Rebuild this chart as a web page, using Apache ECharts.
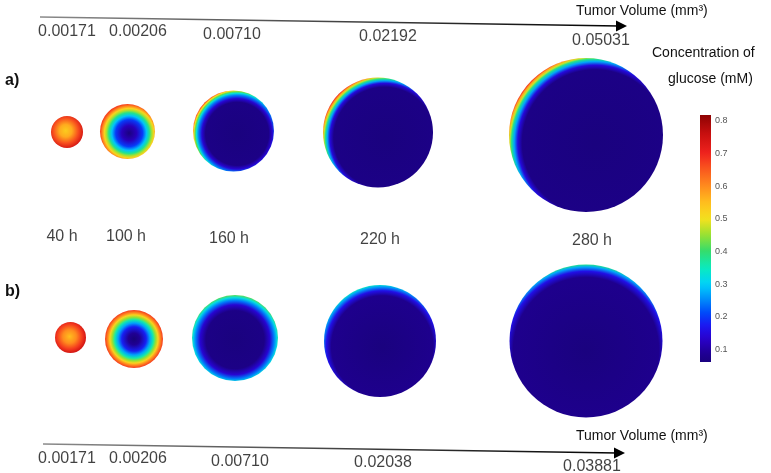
<!DOCTYPE html>
<html><head><meta charset="utf-8">
<script src="https://cdn.jsdelivr.net/npm/echarts@6/dist/echarts.min.js"></script>
<style>html,body{margin:0;padding:0;background:#fff}#c{width:771px;height:473px}</style>
</head><body><div id="c"></div>
<script>
// ---------------- data ----------------
const times = ['40 h', '100 h', '160 h', '220 h', '280 h'];
const volumeA = ['0.00171', '0.00206', '0.00710', '0.02192', '0.05031'];
const volumeB = ['0.00171', '0.00206', '0.00710', '0.02038', '0.03881'];
// glucose concentration (mM) along the radius of each tumour: [relative radius, value]
const glucoseA = [
  [[0, 0.53], [0.35, 0.57], [0.7, 0.66], [1, 0.74]],
  [[0, 0.06], [0.25, 0.12], [0.45, 0.2], [0.58, 0.29], [0.68, 0.38], [0.76, 0.46], [0.83, 0.52], [0.9, 0.6], [0.96, 0.66], [1, 0.68]],
  [[0, 0.06], [0.7, 0.07], [0.78, 0.14], [0.85, 0.24], [0.9, 0.33], [0.93, 0.42], [0.96, 0.5], [0.98, 0.6], [1, 0.68]],
  [[0, 0.06], [0.8, 0.07], [0.86, 0.15], [0.9, 0.27], [0.93, 0.38], [0.955, 0.48], [0.975, 0.58], [1, 0.7]],
  [[0, 0.06], [0.82, 0.07], [0.87, 0.15], [0.91, 0.27], [0.94, 0.38], [0.96, 0.48], [0.98, 0.58], [1, 0.7]]
];
const glucoseB = [
  [[0, 0.55], [0.4, 0.6], [0.75, 0.68], [1, 0.75]],
  [[0, 0.05], [0.2, 0.09], [0.42, 0.18], [0.55, 0.27], [0.66, 0.36], [0.75, 0.45], [0.83, 0.52], [0.9, 0.6], [1, 0.68]],
  [[0, 0.06], [0.65, 0.07], [0.78, 0.14], [0.87, 0.24], [0.94, 0.32], [1, 0.42]],
  [[0, 0.06], [0.82, 0.08], [0.9, 0.16], [0.96, 0.26], [1, 0.34]],
  [[0, 0.06], [0.85, 0.08], [0.92, 0.16], [0.97, 0.27], [1, 0.38]]
];
const colorbarTicks = [0.1, 0.2, 0.3, 0.4, 0.5, 0.6, 0.7, 0.8];
const colorbarRange = [0.062, 0.818];

// ---------------- layout / style ----------------
const layout = {
  aX: [67, 127.5, 233.5, 378, 586], aY: [132, 131.5, 131, 132.5, 135], aD: [32, 55, 81, 110, 154],
  bX: [70.5, 134, 235, 380, 586], bY: [337.5, 339, 338, 341, 341], bD: [31, 58, 86, 112, 153],
  aOff: [[0.46, 0.46], [0.53, 0.53], [0.545, 0.535], [0.56, 0.55], [0.56, 0.55]],
  bOff: [[0.47, 0.47], [0.5, 0.5], [0.5, 0.52], [0.52, 0.55], [0.5, 0.56]],
  topLab: [[67, 32], [138, 32], [232, 35], [388, 37], [601, 41]],
  timeLab: [[62, 237], [126, 237], [229, 239], [380, 240], [592, 241]],
  botLab: [[67, 459], [138, 459], [240, 462], [383, 463], [592, 467]]
};
const jetStops = [
  [0.05, [24, 2, 120]], [0.09, [32, 0, 148]], [0.13, [42, 0, 200]], [0.17, [30, 20, 240]],
  [0.21, [0, 70, 250]], [0.26, [0, 150, 250]], [0.30, [0, 210, 250]], [0.35, [10, 235, 190]],
  [0.40, [50, 220, 110]], [0.45, [150, 225, 50]], [0.50, [245, 225, 30]], [0.55, [255, 190, 30]],
  [0.60, [255, 140, 30]], [0.65, [250, 90, 30]], [0.70, [240, 35, 30]], [0.76, [200, 15, 15]],
  [0.83, [130, 0, 0]]
];
function jet(v) {
  if (v <= jetStops[0][0]) return 'rgb(' + jetStops[0][1].join(',') + ')';
  for (let i = 1; i < jetStops.length; i++) {
    if (v <= jetStops[i][0]) {
      const [v0, c0] = jetStops[i - 1], [v1, c1] = jetStops[i];
      const f = (v - v0) / (v1 - v0);
      return 'rgb(' + c0.map((c, k) => Math.round(c + (c1[k] - c) * f)).join(',') + ')';
    }
  }
  return 'rgb(' + jetStops[jetStops.length - 1][1].join(',') + ')';
}
function grad(profile, off) {
  const r = 0.5 + Math.hypot(off[0] - 0.5, off[1] - 0.5);
  return {
    type: 'radial', x: off[0], y: off[1], r: r,
    colorStops: profile.map(([t, v]) => ({ offset: t, color: jet(v) }))
  };
}
function circles(xs, ys, ds, profiles, offs) {
  return xs.map((x, i) => ({
    value: [x, ys[i]], symbolSize: ds[i],
    itemStyle: { color: grad(profiles[i], offs[i]), opacity: 1 }
  }));
}
function labels(pos, texts) {
  return pos.map((p, i) => ({ value: p, name: texts[i] }));
}
const FONT = 'Liberation Sans, Arial, sans-serif';
const textSeries = (data, size) => ({
  type: 'scatter', xAxisIndex: 0, yAxisIndex: 0, silent: true, symbolSize: 1,
  itemStyle: { color: 'rgba(0,0,0,0)' },
  label: { show: true, position: 'inside', formatter: '{b}', fontFamily: FONT, fontSize: size, color: '#111' },
  data: data
});
const arrow = (x1, y1, x2, y2) => [
  { type: 'line', shape: { x1: x1, y1: y1, x2: x2 - 8, y2: y2 - 0.1 },
    style: { stroke: new echarts.graphic.LinearGradient(x1, 0, x2, 0, [{ offset: 0, color: '#8a8a8a' }, { offset: 1, color: '#000' }], true), lineWidth: 1.5 } },
  { type: 'polygon', shape: { points: [[x2, y2], [x2 - 11, y2 - 5.5], [x2 - 11, y2 + 5.5]] }, style: { fill: '#000' } }
];
const cbStops = [];
for (let i = 0; i <= 40; i++) {
  const v = colorbarRange[1] - (colorbarRange[1] - colorbarRange[0]) * i / 40;
  cbStops.push({ offset: i / 40, color: jet(v) });
}
const chart = echarts.init(document.getElementById('c'), null, { renderer: 'canvas' });
chart.setOption({
  animation: false,
  backgroundColor: '#fff',
  grid: [
    { left: 0, top: 0, width: 771, height: 473 },
    { left: 700, top: 121, width: 11, height: 8 * 32.65 }
  ],
  xAxis: [
    { type: 'value', min: 0, max: 771, show: false, gridIndex: 0 },
    { type: 'value', min: 0, max: 1, show: false, gridIndex: 1 }
  ],
  yAxis: [
    { type: 'value', min: 0, max: 473, inverse: true, show: false, gridIndex: 0 },
    { type: 'value', min: 0, max: 0.8, interval: 0.1, gridIndex: 1, position: 'right',
      axisLine: { show: false }, axisTick: { show: false }, splitLine: { show: false },
      axisLabel: { margin: 4, fontSize: 9, color: '#555', fontFamily: FONT,
        formatter: v => (colorbarTicks.some(t => Math.abs(t - v) < 1e-6) ? v.toFixed(1) : '') } }
  ],
  graphic: [
    ...arrow(40, 17, 627, 26),
    ...arrow(43, 444, 625, 453),
    { type: 'text', left: 576, top: 4, style: { text: 'Tumor Volume (mm³)', font: '14px ' + FONT, fill: '#111' } },
    { type: 'text', left: 576, top: 429, style: { text: 'Tumor Volume (mm³)', font: '14px ' + FONT, fill: '#111' } },
    { type: 'text', left: 652, top: 46, style: { text: 'Concentration of', font: '14px ' + FONT, fill: '#111' } },
    { type: 'text', left: 668, top: 72, style: { text: 'glucose (mM)', font: '14px ' + FONT, fill: '#111' } },
    { type: 'text', left: 5, top: 73, style: { text: 'a)', font: 'bold 16px ' + FONT, fill: '#111' } },
    { type: 'text', left: 5, top: 284, style: { text: 'b)', font: 'bold 16px ' + FONT, fill: '#111' } }
  ],
  series: [
    { type: 'scatter', silent: true, symbol: 'circle', xAxisIndex: 0, yAxisIndex: 0,
      data: circles(layout.aX, layout.aY, layout.aD, glucoseA, layout.aOff) },
    { type: 'scatter', silent: true, symbol: 'circle', xAxisIndex: 0, yAxisIndex: 0,
      data: circles(layout.bX, layout.bY, layout.bD, glucoseB, layout.bOff) },
    textSeries(labels(layout.topLab, volumeA), 16),
    textSeries(labels(layout.timeLab, times), 16),
    textSeries(labels(layout.botLab, volumeB), 16),
    { type: 'custom', xAxisIndex: 1, yAxisIndex: 1, silent: true, clip: false,
      data: [[0, 0]],
      renderItem: function (params, api) {
        const p1 = api.coord([0, colorbarRange[1]]);
        const p2 = api.coord([1, colorbarRange[0]]);
        return { type: 'rect', shape: { x: p1[0], y: p1[1], width: p2[0] - p1[0], height: p2[1] - p1[1] },
          style: { fill: new echarts.graphic.LinearGradient(0, 0, 0, 1, cbStops) } };
      } }
  ]
});
</script></body></html>
